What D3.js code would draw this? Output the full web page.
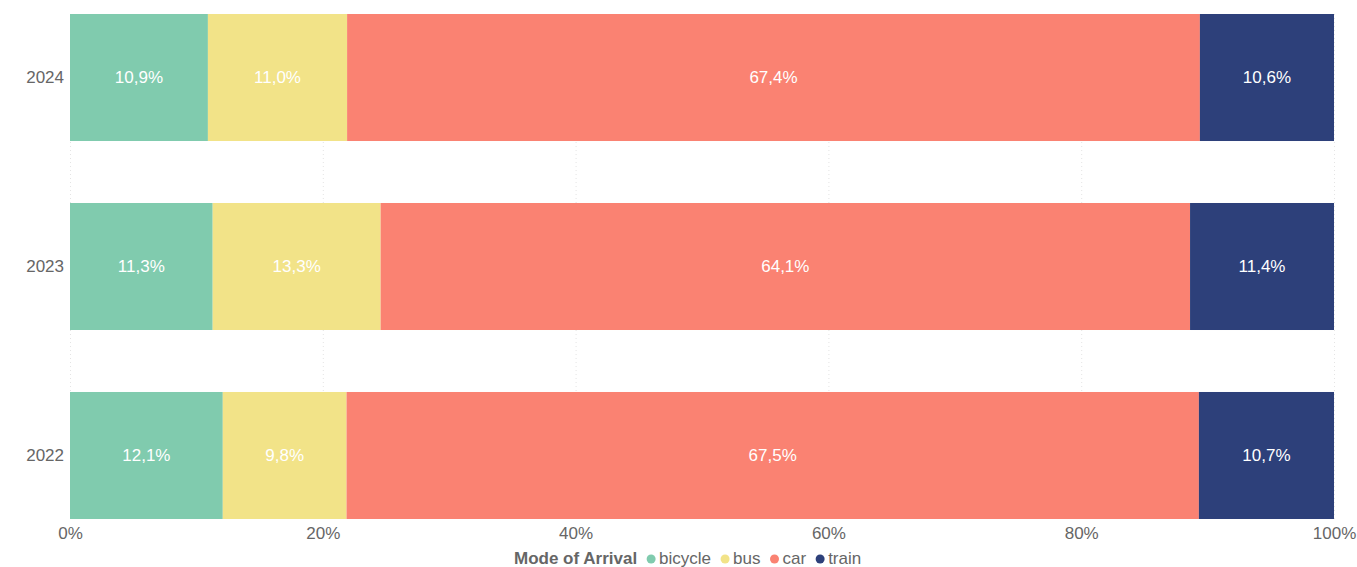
<!DOCTYPE html>
<html>
<head>
<meta charset="utf-8">
<script src="https://cdn.jsdelivr.net/npm/d3@7"></script>
<style>
  html, body { margin: 0; padding: 0; background: #fff; }
  svg { display: block; font-family: "Liberation Sans", Arial, sans-serif; }
</style>
</head>
<body>
<svg id="chart" width="1357" height="567"></svg>
<script>
// Share of arrivals by mode, per year (percent)
const years = ["2024", "2023", "2022"];
const modes = ["bicycle", "bus", "car", "train"];
const bicycle = [10.9, 11.3, 12.1];
const bus = [11.0, 13.3, 9.8];
const car = [67.4, 64.1, 67.5];
const train = [10.6, 11.4, 10.7];
const colors = ["#80CBAE", "#F2E388", "#FA8272", "#2D407A"];
const xTicks = [0, 0.2, 0.4, 0.6, 0.8, 1];
const legendTitle = "Mode of Arrival";

const rows = years.map((y, i) => ({
  year: y, bicycle: bicycle[i], bus: bus[i], car: car[i], train: train[i]
}));

const svg = d3.select("#chart");
const margin = { left: 70, right: 23, top: 14, bottom: 48 };
const W = 1357, H = 567;
const FS = 17;

const x = d3.scaleLinear().domain([0, 1]).range([margin.left, W - margin.right]);
const y = d3.scaleBand().domain(years).range([margin.top, H - margin.bottom])
  .paddingInner(0.328).paddingOuter(0);
const color = d3.scaleOrdinal().domain(modes).range(colors);

// Dotted vertical gridlines
svg.append("g").selectAll("line").data(xTicks).join("line")
  .attr("x1", d => x(d) + 0.5).attr("x2", d => x(d) + 0.5)
  .attr("y1", margin.top).attr("y2", H - margin.bottom)
  .attr("stroke", "#e4e4e4").attr("stroke-width", 1)
  .attr("stroke-dasharray", "1,3");

const stacked = d3.stack().keys(modes).offset(d3.stackOffsetExpand)(rows);

const fmt = v => v.toFixed(1).replace(".", ",") + "%";

const layers = svg.append("g").selectAll("g").data(stacked).join("g")
  .attr("fill", d => color(d.key));

layers.selectAll("rect").data(d => d.map(s => ({ key: d.key, s }))).join("rect")
  .attr("x", d => x(d.s[0]))
  .attr("width", d => x(d.s[1]) - x(d.s[0]))
  .attr("y", d => y(d.s.data.year))
  .attr("height", y.bandwidth());

layers.selectAll("text").data(d => d.map(s => ({ key: d.key, s }))).join("text")
  .attr("x", d => (x(d.s[0]) + x(d.s[1])) / 2)
  .attr("y", d => y(d.s.data.year) + y.bandwidth() / 2)
  .attr("dy", "0.35em")
  .attr("text-anchor", "middle")
  .attr("fill", "#ffffff")
  .attr("font-size", FS)
  .text(d => fmt(d.s.data[d.key]));

// Year axis
const yAxis = svg.append("g").attr("transform", `translate(${margin.left},0)`)
  .call(d3.axisLeft(y).tickSize(0).tickPadding(6));
yAxis.select(".domain").remove();
yAxis.selectAll("text").attr("fill", "#666").attr("font-size", FS)
  .attr("font-family", "Liberation Sans, Arial, sans-serif");

// Percentage axis
const xAxis = svg.append("g").attr("transform", `translate(0,${H - margin.bottom})`)
  .call(d3.axisBottom(x).tickValues(xTicks).tickFormat(d3.format(".0%")).tickSize(0).tickPadding(8));
xAxis.select(".domain").remove();
xAxis.selectAll("text").attr("fill", "#666").attr("font-size", FS)
  .attr("font-family", "Liberation Sans, Arial, sans-serif");

// Legend
const legend = svg.append("g").attr("transform", "translate(514,558)");
const title = legend.append("text")
  .attr("y", 0).attr("dy", "0.35em")
  .attr("font-size", FS).attr("font-weight", "bold").attr("fill", "#666")
  .text(legendTitle);
let lx = title.node().getComputedTextLength() + 14;
modes.forEach(m => {
  legend.append("circle").attr("cx", lx).attr("cy", 1).attr("r", 4.5).attr("fill", color(m));
  const t = legend.append("text").attr("x", lx + 8).attr("dy", "0.35em")
    .attr("font-size", FS).attr("fill", "#666").text(m);
  lx += 8 + t.node().getComputedTextLength() + 14;
});
</script>
</body>
</html>
